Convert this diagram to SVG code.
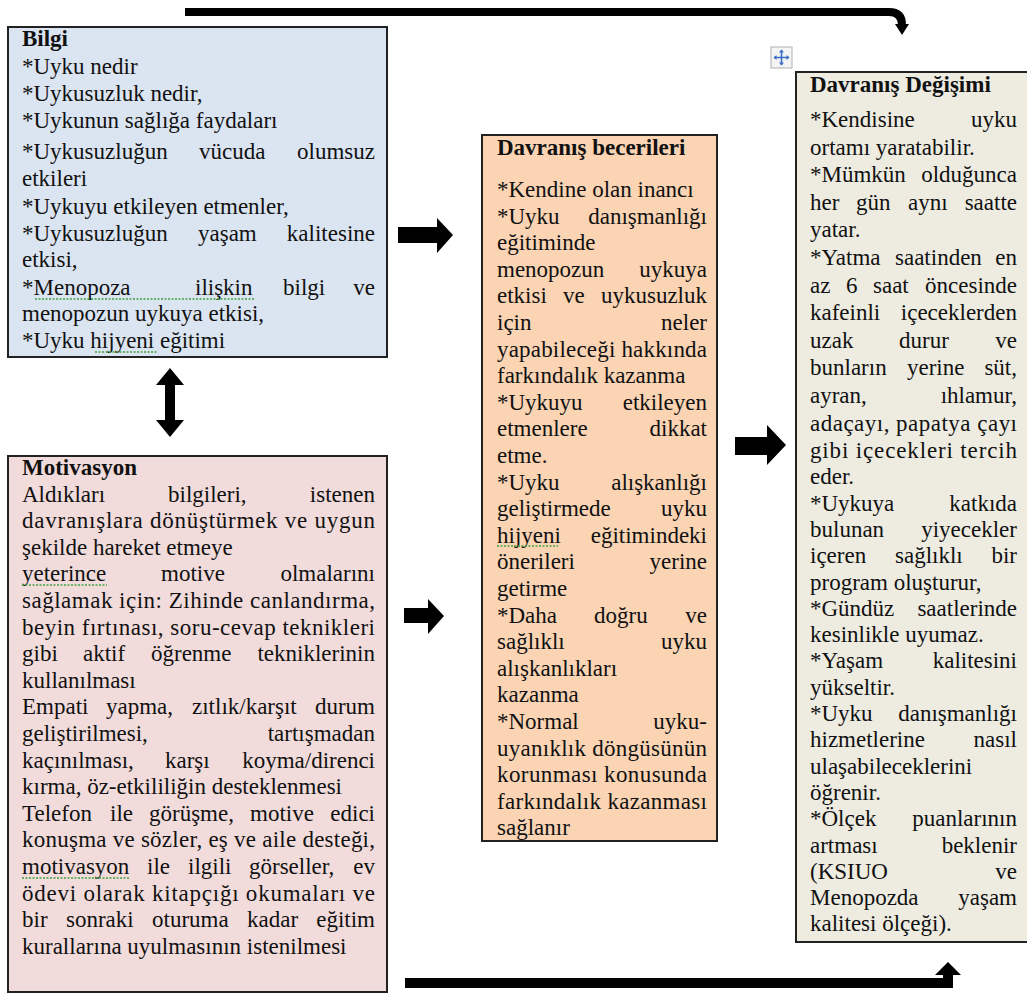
<svg xmlns="http://www.w3.org/2000/svg" width="1027" height="994" viewBox="0 0 1027 994">
<style>
.box{stroke:#222;stroke-width:2}
.t{font-family:"Liberation Serif","Times New Roman",Times,"DejaVu Serif",serif;font-size:23px;fill:#111}
.b{font-weight:bold}
.r{text-anchor:end}
.sq{fill:none;stroke:#3fa33f;stroke-width:1.3;stroke-dasharray:2 1.5}
.ar{fill:#000}
</style>
<rect width="1027" height="994" fill="#fff"/>

<g id="connectors">
  <path d="M185,12 H889 Q902,12 902,25 V26" fill="none" stroke="#000" stroke-width="8"/>
  <polygon class="ar" points="895,24 909,24 902,35"/>
  <path d="M405,983 H948 V974" fill="none" stroke="#000" stroke-width="10"/>
  <polygon class="ar" points="935,975 961,975 948,962"/>
  <polygon class="ar" points="398,227 437,227 437,218 453,235 437,253 437,243 398,243"/>
  <polygon class="ar" points="404,608 428,608 428,599 444,616 428,634 428,623 404,623"/>
  <polygon class="ar" points="735,437 767,437 767,425 786,445 767,465 767,455 735,455"/>
  <polygon class="ar" points="170,368 184,385 175,385 175,420 184,420 170,437 156,420 165,420 165,385 156,385"/>
</g>

<g id="bilgi">
  <rect class="box" x="8" y="27" width="379" height="330" fill="#dbe5f1"/>
  <text class="t b" x="22" y="46">Bilgi</text>
  <text class="t" x="22" y="74">*Uyku nedir</text>
  <text class="t" x="22" y="101">*Uykusuzluk nedir,</text>
  <text class="t" x="22" y="128">*Uykunun sağlığa faydaları</text>
  <text class="t" x="22" y="159">*Uykusuzluğun</text><text class="t" x="199" y="159">vücuda</text><text class="t r" x="375" y="159">olumsuz</text>
  <text class="t" x="22" y="186">etkileri</text>
  <text class="t" x="22" y="214">*Uykuyu etkileyen etmenler,</text>
  <text class="t" x="22" y="241">*Uykusuzluğun</text><text class="t" x="198" y="241">yaşam</text><text class="t r" x="375" y="241">kalitesine</text>
  <text class="t" x="22" y="267">etkisi,</text>
  <text class="t" x="22" y="295">*Menopoza</text><text class="t" x="195" y="295">ilişkin</text><text class="t" x="283" y="295">bilgi</text><text class="t r" x="375" y="295">ve</text>
  <text class="t" x="22" y="321">menopozun uykuya etkisi,</text>
  <text class="t" x="22" y="348">*Uyku hijyeni eğitimi</text>
  <path class="sq" d="M35,299 H255 M95,352 H158"/>
</g>

<g id="motivasyon">
  <rect class="box" x="8" y="456" width="379" height="536" fill="#f2dcdb"/>
  <text class="t b" x="22" y="475">Motivasyon</text>
  <text class="t" x="22" y="501.6">Aldıkları</text><text class="t" x="168" y="501.6">bilgileri,</text><text class="t r" x="375" y="501.6">istenen</text>
  <text class="t" x="22" y="528.2" textLength="353" lengthAdjust="spacing">davranışlara dönüştürmek ve uygun</text>
  <text class="t" x="22" y="554.8">şekilde hareket etmeye</text>
  <text class="t" x="22" y="581.4">yeterince</text><text class="t" x="161" y="581.4">motive</text><text class="t r" x="375" y="581.4">olmalarını</text>
  <text class="t" x="22" y="608" textLength="353" lengthAdjust="spacing">sağlamak için: Zihinde canlandırma,</text>
  <text class="t" x="22" y="634.6" textLength="353" lengthAdjust="spacing">beyin fırtınası, soru-cevap teknikleri</text>
  <text class="t" x="22" y="661.2">gibi</text><text class="t" x="83" y="661.2">aktif</text><text class="t" x="151" y="661.2">öğrenme</text><text class="t r" x="375" y="661.2">tekniklerinin</text>
  <text class="t" x="22" y="687.8">kullanılması</text>
  <text class="t" x="22" y="714.4">Empati</text><text class="t" x="106" y="714.4">yapma,</text><text class="t" x="192" y="714.4">zıtlık/karşıt</text><text class="t r" x="375" y="714.4">durum</text>
  <text class="t" x="22" y="741">geliştirilmesi,</text><text class="t r" x="375" y="741">tartışmadan</text>
  <text class="t" x="22" y="767.6">kaçınılması,</text><text class="t" x="165" y="767.6">karşı</text><text class="t r" x="375" y="767.6">koyma/direnci</text>
  <text class="t" x="22" y="794.2">kırma, öz-etkililiğin desteklenmesi</text>
  <text class="t" x="22" y="820.8">Telefon</text><text class="t" x="110" y="820.8">ile</text><text class="t" x="149" y="820.8">görüşme,</text><text class="t" x="250" y="820.8">motive</text><text class="t r" x="375" y="820.8">edici</text>
  <text class="t" x="22" y="847.4" textLength="353" lengthAdjust="spacing">konuşma ve sözler, eş ve aile desteği,</text>
  <text class="t" x="22" y="874">motivasyon</text><text class="t" x="147" y="874">ile</text><text class="t" x="188" y="874">ilgili</text><text class="t" x="249" y="874">görseller,</text><text class="t r" x="375" y="874">ev</text>
  <text class="t" x="22" y="900.6" textLength="353" lengthAdjust="spacing">ödevi olarak kitapçığı okumaları ve</text>
  <text class="t" x="22" y="927.2">bir</text><text class="t" x="66" y="927.2">sonraki</text><text class="t" x="152" y="927.2">oturuma</text><text class="t" x="247" y="927.2">kadar</text><text class="t r" x="375" y="927.2">eğitim</text>
  <text class="t" x="22" y="953.8">kurallarına uyulmasının istenilmesi</text>
  <path class="sq" d="M22,585 H107 M22,878 H129"/>
</g>

<g id="davranis-becerileri">
  <rect class="box" x="482" y="135" width="235" height="706" fill="#fbd4b4"/>
  <text class="t b" x="497" y="155">Davranış becerileri</text>
  <text class="t" x="497" y="197">*Kendine olan inancı</text>
  <text class="t" x="497" y="223.6">*Uyku</text><text class="t r" x="707" y="223.6">danışmanlığı</text>
  <text class="t" x="497" y="250.2">eğitiminde</text>
  <text class="t" x="497" y="276.8">menopozun</text><text class="t r" x="707" y="276.8">uykuya</text>
  <text class="t" x="497" y="303.4">etkisi</text><text class="t" x="563" y="303.4">ve</text><text class="t r" x="707" y="303.4">uykusuzluk</text>
  <text class="t" x="497" y="330">için</text><text class="t r" x="707" y="330">neler</text>
  <text class="t" x="497" y="356.6" textLength="210" lengthAdjust="spacing">yapabileceği hakkında</text>
  <text class="t" x="497" y="383.2">farkındalık kazanma</text>
  <text class="t" x="497" y="409.8">*Uykuyu</text><text class="t r" x="707" y="409.8">etkileyen</text>
  <text class="t" x="497" y="436.4">etmenlere</text><text class="t r" x="707" y="436.4">dikkat</text>
  <text class="t" x="497" y="463">etme.</text>
  <text class="t" x="497" y="489.6">*Uyku</text><text class="t r" x="707" y="489.6">alışkanlığı</text>
  <text class="t" x="497" y="516.2">geliştirmede</text><text class="t r" x="707" y="516.2">uyku</text>
  <text class="t" x="497" y="542.8">hijyeni</text><text class="t r" x="707" y="542.8">eğitimindeki</text>
  <text class="t" x="497" y="569.4">önerileri</text><text class="t r" x="707" y="569.4">yerine</text>
  <text class="t" x="497" y="596">getirme</text>
  <text class="t" x="497" y="622.6">*Daha</text><text class="t" x="594" y="622.6">doğru</text><text class="t r" x="707" y="622.6">ve</text>
  <text class="t" x="497" y="649.2">sağlıklı</text><text class="t r" x="707" y="649.2">uyku</text>
  <text class="t" x="497" y="675.8">alışkanlıkları</text>
  <text class="t" x="497" y="702.4">kazanma</text>
  <text class="t" x="497" y="729">*Normal</text><text class="t r" x="707" y="729">uyku-</text>
  <text class="t" x="497" y="755.6" textLength="210" lengthAdjust="spacing">uyanıklık döngüsünün</text>
  <text class="t" x="497" y="782.2" textLength="210" lengthAdjust="spacing">korunması konusunda</text>
  <text class="t" x="497" y="808.8" textLength="210" lengthAdjust="spacing">farkındalık kazanması</text>
  <text class="t" x="497" y="835.4">sağlanır</text>
  <path class="sq" d="M497,546 H558"/>
</g>

<g id="davranis-degisimi">
  <rect class="box" x="796" y="72" width="232" height="870" fill="#eeece1"/>
  <g id="move-handle">
    <rect x="771" y="47" width="21" height="21" fill="#f4f4f4" stroke="#b0b0b0" stroke-width="1"/>
    <path d="M781.5,50 V65 M774,57.5 H789" stroke="#3b6fc6" stroke-width="1.6"/>
    <path d="M781.5,49.5 l-2.5,3 h5 z M781.5,65.5 l-2.5,-3 h5 z M773.5,57.5 l3,-2.5 v5 z M789.5,57.5 l-3,-2.5 v5 z" fill="#3b6fc6"/>
  </g>
  <text class="t b" x="810" y="92">Davranış Değişimi</text>
  <text class="t" x="810" y="127">*Kendisine</text><text class="t r" x="1017" y="127">uyku</text>
  <text class="t" x="810" y="154.6">ortamı yaratabilir.</text>
  <text class="t" x="810" y="182.2">*Mümkün</text><text class="t r" x="1017" y="182.2">olduğunca</text>
  <text class="t" x="810" y="209.8">her</text><text class="t" x="856" y="209.8">gün</text><text class="t" x="908" y="209.8">aynı</text><text class="t r" x="1017" y="209.8">saatte</text>
  <text class="t" x="810" y="237.4">yatar.</text>
  <text class="t" x="810" y="265">*Yatma</text><text class="t" x="895" y="265">saatinden</text><text class="t r" x="1017" y="265">en</text>
  <text class="t" x="810" y="292.6">az</text><text class="t" x="846" y="292.6">6</text><text class="t" x="873" y="292.6">saat</text><text class="t r" x="1017" y="292.6">öncesinde</text>
  <text class="t" x="810" y="320.2">kafeinli</text><text class="t r" x="1017" y="320.2">içeceklerden</text>
  <text class="t" x="810" y="347.8">uzak</text><text class="t" x="899" y="347.8">durur</text><text class="t r" x="1017" y="347.8">ve</text>
  <text class="t" x="810" y="375.4">bunların</text><text class="t" x="907" y="375.4">yerine</text><text class="t r" x="1017" y="375.4">süt,</text>
  <text class="t" x="810" y="403">ayran,</text><text class="t r" x="1017" y="403">ıhlamur,</text>
  <text class="t" x="810" y="430.6" textLength="207" lengthAdjust="spacing">adaçayı, papatya çayı</text>
  <text class="t" x="810" y="458" textLength="207" lengthAdjust="spacing">gibi içecekleri tercih</text>
  <text class="t" x="810" y="484.3">eder.</text>
  <text class="t" x="810" y="510.6">*Uykuya</text><text class="t r" x="1017" y="510.6">katkıda</text>
  <text class="t" x="810" y="536.9">bulunan</text><text class="t r" x="1017" y="536.9">yiyecekler</text>
  <text class="t" x="810" y="563.2">içeren</text><text class="t" x="895" y="563.2">sağlıklı</text><text class="t r" x="1017" y="563.2">bir</text>
  <text class="t" x="810" y="589.5">program oluşturur,</text>
  <text class="t" x="810" y="615.8">*Gündüz</text><text class="t r" x="1017" y="615.8">saatlerinde</text>
  <text class="t" x="810" y="642.1">kesinlikle uyumaz.</text>
  <text class="t" x="810" y="668.4">*Yaşam</text><text class="t r" x="1017" y="668.4">kalitesini</text>
  <text class="t" x="810" y="694.7">yükseltir.</text>
  <text class="t" x="810" y="721">*Uyku</text><text class="t r" x="1017" y="721">danışmanlığı</text>
  <text class="t" x="810" y="747.3">hizmetlerine</text><text class="t r" x="1017" y="747.3">nasıl</text>
  <text class="t" x="810" y="773.6">ulaşabileceklerini</text>
  <text class="t" x="810" y="799.9">öğrenir.</text>
  <text class="t" x="810" y="826.2">*Ölçek</text><text class="t r" x="1017" y="826.2">puanlarının</text>
  <text class="t" x="810" y="852.5">artması</text><text class="t r" x="1017" y="852.5">beklenir</text>
  <text class="t" x="810" y="878.8">(KSIUO</text><text class="t r" x="1017" y="878.8">ve</text>
  <text class="t" x="810" y="905.1">Menopozda</text><text class="t r" x="1017" y="905.1">yaşam</text>
  <text class="t" x="810" y="931.4">kalitesi ölçeği).</text>
</g>
</svg>
